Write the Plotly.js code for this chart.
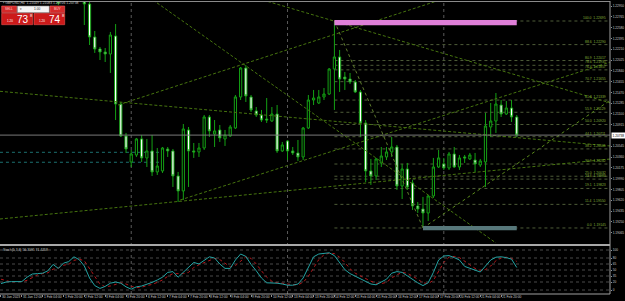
<!DOCTYPE html>
<html><head><meta charset="utf-8">
<script src="https://cdn.plot.ly/plotly-3.0.1.min.js"></script>
<style>html,body{margin:0;padding:0;background:#000;}#c{width:625px;height:301px;}</style>
</head><body><div id="c"></div>
<script>
// ---------- DATA ----------
const barIdx = [11,16,17,18,19,20,21,22,23,24,25,26,27,28,29,30,31,32,33,34,35,36,37,38,39,40,41,42,43,44,45,46,47,48,49,50,51,52,53,54,55,56,57,58,59,60,61,62,63,64,65,66,67,68,69,70,71,72,73,74,75,76,77,78,79,80,81,82,83,84,85,86,87,88,89,90,91,92,93,94,95,96,97,98,99];
const opens = [1.23055,1.23072,1.22986,1.22421,1.22215,1.22164,1.22129,1.22438,1.21271,1.20723,1.20277,1.20397,1.20672,1.20346,1.20466,1.20106,1.20123,1.20500,1.20466,1.20037,1.19780,1.20826,1.20466,1.20449,1.20517,1.21049,1.20757,1.20826,1.20672,1.20723,1.20860,1.21392,1.21889,1.21392,1.21152,1.21083,1.21014,1.20980,1.21100,1.20466,1.20637,1.20466,1.20432,1.20363,1.20860,1.21340,1.21289,1.21392,1.21443,1.21872,1.22078,1.21734,1.21700,1.21649,1.21478,1.20946,1.20123,1.20037,1.20260,1.20363,1.20449,1.20534,1.19865,1.20157,1.19917,1.19522,1.19471,1.19402,1.19694,1.20191,1.20243,1.20174,1.20414,1.20191,1.20363,1.20329,1.20311,1.20226,1.20277,1.20877,1.20980,1.21254,1.21100,1.21203,1.21049];
const highs = [1.23141,1.23158,1.23021,1.22524,1.22249,1.22232,1.22507,1.22643,1.21306,1.20775,1.20483,1.20689,1.20740,1.20672,1.20740,1.20517,1.20534,1.20534,1.20500,1.20106,1.20928,1.20877,1.20603,1.20603,1.21083,1.21083,1.20997,1.20911,1.20826,1.20911,1.21426,1.21906,1.21940,1.21426,1.21220,1.21169,1.21374,1.21220,1.21254,1.20620,1.20654,1.20534,1.20654,1.20877,1.21426,1.21512,1.21512,1.21546,1.21889,1.22695,1.22198,1.21820,1.21803,1.21683,1.21512,1.20997,1.20329,1.20346,1.20534,1.20534,1.20706,1.20569,1.20243,1.20260,1.19968,1.19591,1.19677,1.19711,1.20346,1.20483,1.20346,1.20449,1.20534,1.20397,1.20397,1.20432,1.20432,1.20329,1.21117,1.21289,1.21460,1.21340,1.21323,1.21340,1.21083];
const lows = [1.22969,1.22626,1.22283,1.22147,1.22026,1.21992,1.21804,1.20997,1.20706,1.20432,1.20191,1.20363,1.20277,1.20191,1.20037,1.20054,1.20089,1.20363,1.19848,1.19591,1.19625,1.19848,1.20346,1.20363,1.20483,1.20706,1.20534,1.20620,1.20552,1.20706,1.20843,1.21340,1.21306,1.21134,1.21049,1.20963,1.20946,1.20963,1.20432,1.20449,1.20311,1.20397,1.20294,1.20311,1.20843,1.21254,1.21271,1.21340,1.21426,1.21169,1.21478,1.21512,1.21614,1.21460,1.20706,1.19934,1.19883,1.19968,1.20191,1.20311,1.20363,1.19797,1.19642,1.19797,1.19454,1.19402,1.19145,1.19265,1.19659,1.20174,1.20140,1.20140,1.20174,1.20140,1.20260,1.20311,1.20106,1.20191,1.19848,1.20706,1.20775,1.21049,1.21083,1.20963,1.20706];
const closes = [1.23004,1.22986,1.22421,1.22215,1.22164,1.22129,1.22455,1.21271,1.20723,1.20500,1.20414,1.20672,1.20346,1.20466,1.20106,1.20208,1.20517,1.20466,1.20037,1.19780,1.20843,1.20466,1.20449,1.20517,1.21049,1.20809,1.20809,1.20689,1.20740,1.20877,1.21392,1.21889,1.21409,1.21169,1.21083,1.20997,1.20997,1.21100,1.20466,1.20569,1.20466,1.20432,1.20363,1.20860,1.21340,1.21374,1.21392,1.21443,1.21872,1.22078,1.21700,1.21700,1.21649,1.21478,1.20946,1.20123,1.20037,1.20329,1.20380,1.20449,1.20534,1.19865,1.20157,1.19848,1.19522,1.19471,1.19402,1.19694,1.20191,1.20346,1.20174,1.20414,1.20191,1.20346,1.20346,1.20397,1.20243,1.20294,1.20894,1.20980,1.21271,1.21100,1.21203,1.21049,1.20738];

const stochMain = [16,20,21,21,21,32,40,41,42,48,64,54,67,71,83,76,60,30,11,4,9,17,20,17,8,2,8,10,14,19,25,32,44,46,32,44,56,69,65,73,83,80,65,54,54,75,90,84,64,48,30,18,18,17,15,12,12,15,30,56,83,90,92,93,86,67,51,41,35,29,22,15,13,19,27,42,46,44,35,25,18,11,18,44,75,85,86,81,75,59,54,48,45,60,75,82,83,81,77,56.3095];
const stochSignal = [27,23,20,21,21,24,31,38,41,43,52,55,62,64,74,77,73,55,34,15,8,10,15,18,15,9,6,7,11,14,19,25,34,41,41,41,44,56,63,69,74,79,76,66,58,61,73,83,79,65,48,32,22,18,17,15,13,13,19,34,56,76,88,92,91,82,69,53,42,35,29,22,17,16,19,30,38,44,42,35,27,18,16,24,45,69,82,84,81,72,62,54,49,51,60,73,80,82,79,71.4258];

const timeLabels = ["30 Jan 2023","31 Jan 12:00","1 Feb 04:00","1 Feb 20:00","2 Feb 12:00","3 Feb 04:00","3 Feb 20:00","6 Feb 12:00","7 Feb 04:00","7 Feb 20:00","8 Feb 12:00","9 Feb 04:00","9 Feb 20:00","10 Feb 12:00","13 Feb 04:00","13 Feb 20:00","14 Feb 12:00","15 Feb 04:00","15 Feb 20:00","16 Feb 12:00","17 Feb 04:00","17 Feb 20:00","20 Feb 12:00","21 Feb 04:00","21 Feb 20:00"];
const timeLabelIdx = [0,4,8,12,16,20,24,28,32,36,40,44,48,52,56,60,64,68,72,76,80,84,88,92,96];
const weekStartIdx = [25,55,85];

const priceTicks = [1.22950,1.22765,1.22580,1.22395,1.22210,1.22025,1.21840,1.21655,1.21470,1.21285,1.21100,1.20915,1.20545,1.20360,1.20175,1.19990,1.19805,1.19620,1.19435,1.19250,1.19065];
const priceTickText = ["1.22950","1.22765","1.22580","1.22395","1.22210","1.22025","1.21840","1.21655","1.21470","1.21285","1.21100","1.20915","1.20545","1.20360","1.20175","1.19990","1.19805","1.19620","1.19435","1.19250","1.19065"];
const stochLevels = [100,80,65,50,35,20,0];
const stochLevelText = ["100","80","65","50","35","20","0"];

const fibHighIdx = 64, fibHighPrice = 1.22695;
const fibLowIdx = 81, fibLowPrice = 1.19145;
const fibRatios = [100.0,88.6,80.9,78.6,76.4,70.7,61.8,55.9,50.0,44.1,38.2,30.9,25.0,23.6,19.1,11.4,0.0];

const bidPrice = 1.20738, askPrice = 1.20748;
// trend lines: [idx0, price0, idx1, price1]
const trendLines = [
  [-0.2,1.21489,117,1.20551],
  [22.46,1.21254,84.26,1.23055],
  [-0.2,1.19299,117,1.20328],
  [34.4,1.19625,117,1.21992],
  [29.17,1.23055,95.01,1.18888],
  [50.29,1.23055,117,1.21289]
];
const fibTrend = [fibHighIdx,fibHighPrice,fibLowIdx,fibLowPrice];
const lowRay = [81,1.19145,117,1.21340];
const cyanLevels = [1.20443,1.20272];
const cyanLevelEnd = 30.5;
const highZone = [64,99,1.22621,1.22712];
const lowZone = [81,99,1.19106,1.19179];
const titleText = "GBPUSD,H4  1.21049 1.21083 1.20706 1.20738";
const stochTitle = "Stoch(5,3,3) 56.3095 71.4258";

// ---------- LAYOUT HELPERS ----------
const PW = 610, TOP = 2, BOT = 294;
const PH = BOT - TOP;
const pxp = x => x / PW;
const pyp = y => (BOT - y) / PH;
const GREEN = '#14a014';
const FONT = 'Liberation Sans, Arial, sans-serif';

const stochIdx = stochMain.map((_, i) => i);

const traces = [
  {type:'candlestick', x:barIdx, open:opens, high:highs, low:lows, close:closes,
   xaxis:'x', yaxis:'y',
   increasing:{line:{color:GREEN,width:1}, fillcolor:'#000000'},
   decreasing:{line:{color:GREEN,width:1}, fillcolor:'#ffffff'},
   whiskerwidth:0, hoverinfo:'skip', showlegend:false},
  {type:'scatter', mode:'lines', x:stochIdx, y:stochSignal, xaxis:'x', yaxis:'y2',
   line:{color:'#b3171b', width:1, dash:'dot'}, hoverinfo:'skip'},
  {type:'scatter', mode:'lines', x:stochIdx, y:stochMain, xaxis:'x', yaxis:'y2',
   line:{color:'#23a3a3', width:1}, hoverinfo:'skip'}
];

const shapes = [];
const annotations = [];

weekStartIdx.forEach(i => shapes.push({type:'line', xref:'x', yref:'paper', x0:i, x1:i, y0:0, y1:1,
  line:{color:'#5a5a5a', width:1, dash:'dot'}, layer:'below'}));

stochLevels.forEach(v => shapes.push({type:'line', xref:'paper', yref:'y2', x0:0, x1:1, y0:v, y1:v,
  line:{color:'#4a4a4a', width:1, dash:'dot'}, layer:'below'}));

cyanLevels.forEach(v => shapes.push({type:'line', xref:'x', yref:'y', x0:-0.2, x1:cyanLevelEnd, y0:v, y1:v,
  line:{color:'#1c7070', width:1, dash:'dot'}, layer:'below'}));

const fibRange = fibHighPrice - fibLowPrice;
fibRatios.forEach(r => {
  const p = fibLowPrice + r / 100 * fibRange;
  shapes.push({type:'line', xref:'x', yref:'y', x0:fibHighIdx, x1:116.6, y0:p, y1:p,
    line:{color:'#4e5c38', width:1, dash:'dot'}, layer:'below'});
  annotations.push({xref:'paper', yref:'y', x:607/PW, y:p, xanchor:'right', yanchor:'bottom',
    text:r.toFixed(1) + '  ' + p.toFixed(5), showarrow:false, font:{size:3.4, color:'#86b23a', family:FONT}, borderpad:0});
});

trendLines.forEach(t => shapes.push({type:'line', xref:'x', yref:'y', x0:t[0], y0:t[1], x1:t[2], y1:t[3],
  line:{color:'#46740f', width:1, dash:'3px,2px'}}));
shapes.push({type:'line', xref:'x', yref:'y', x0:fibTrend[0], y0:fibTrend[1], x1:fibTrend[2], y1:fibTrend[3],
  line:{color:'#5e7c2c', width:1, dash:'dot'}});
shapes.push({type:'line', xref:'x', yref:'y', x0:lowRay[0], y0:lowRay[1], x1:lowRay[2], y1:lowRay[3],
  line:{color:'#5a8a1c', width:1, dash:'dot'}});

shapes.push({type:'rect', xref:'x', yref:'y', x0:highZone[0], x1:highZone[1], y0:highZone[2], y1:highZone[3],
  fillcolor:'#df7fd8', line:{width:0}});
shapes.push({type:'rect', xref:'x', yref:'y', x0:lowZone[0], x1:lowZone[1], y0:lowZone[2], y1:lowZone[3],
  fillcolor:'#57777a', line:{width:0}});

shapes.push({type:'line', xref:'paper', yref:'y', x0:0, x1:1, y0:bidPrice, y1:bidPrice,
  line:{color:'#7a7a7a', width:1}});

shapes.push({type:'line', xref:'paper', yref:'paper', x0:0, x1:1, y0:pyp(1.5), y1:pyp(1.5), line:{color:'#8a8a8a', width:1}});
shapes.push({type:'line', xref:'paper', yref:'paper', x0:0, x1:1, y0:pyp(245), y1:pyp(245), line:{color:'#a8a8a8', width:2}});
shapes.push({type:'line', xref:'paper', yref:'paper', x0:0, x1:1, y0:0, y1:0, line:{color:'#a0a0a0', width:1}});
shapes.push({type:'line', xref:'paper', yref:'paper', x0:1, x1:1, y0:0, y1:pyp(1), line:{color:'#a0a0a0', width:1}});

function box(x0,y0,x1,y1,fill,lc){shapes.push({type:'rect', xref:'paper', yref:'paper',
  x0:pxp(x0), x1:pxp(x1), y0:pyp(y1), y1:pyp(y0), fillcolor:fill, line:{color:lc, width:0.6}});}
function txt(x,y,t,size,color,xa){annotations.push({xref:'paper', yref:'paper', x:pxp(x), y:pyp(y), text:t,
  showarrow:false, xanchor:xa||'center', yanchor:'middle', font:{size:size, color:color, family:FONT}, borderpad:0});}
box(1.7,6,16.7,12.7,'#d42a2a','#f06060');
box(17.3,6,49.3,12.7,'#f4f4f4','#888888');
box(50,6,64.7,12.7,'#d42a2a','#f06060');
box(1.7,13.3,32.7,24.7,'#cc1a1a','#f05050');
box(34,13.3,64.7,24.7,'#cc1a1a','#f05050');
txt(9.2,9.4,'SELL',3.2,'#ffd0d0');
txt(57.3,9.4,'BUY',3.2,'#ffd0d0');
txt(21,9.4,'▾',3.2,'#333333');
txt(37,9.4,'1.00',3.2,'#222222');
const bidStr = bidPrice.toFixed(5), askStr = askPrice.toFixed(5);
txt(6,21.5,bidStr.slice(0,4),3,'#ffffff','left');
txt(23,19.6,bidStr.slice(4,6),10,'#ffffff');
txt(31,16,bidStr.slice(6),4,'#ffffff');
txt(38,21.5,askStr.slice(0,4),3,'#ffffff','left');
txt(55,19.6,askStr.slice(4,6),10,'#ffffff');
txt(63,16,askStr.slice(6),4,'#ffffff');

txt(2,3.3,'▪ ' + titleText,3.4,'#c8c8c8','left');
txt(2,249.5,stochTitle,3.4,'#c8c8c8','left');

annotations.push({xref:'paper', yref:'y', x:1, y:bidPrice, xanchor:'left', yanchor:'middle', xshift:1,
  text:bidStr, showarrow:false, bgcolor:'#ffffff', font:{size:3.2, color:'#000000', family:FONT}, borderpad:0.5});

timeLabels.forEach((t,k) => annotations.push({xref:'x', yref:'paper', x:timeLabelIdx[k], y:pyp(297.3),
  xanchor:'left', yanchor:'middle', text:t, showarrow:false, font:{size:3.3, color:'#c8c8c8', family:FONT}, borderpad:0}));

const layout = {
  width:625, height:301,
  margin:{l:0, r:15, t:TOP, b:301-BOT},
  paper_bgcolor:'#000000', plot_bgcolor:'#000000',
  showlegend:false, dragmode:false, hovermode:false,
  boxgap:0.4,
  xaxis:{range:[-0.19,116.9], domain:[0,1], anchor:'y2', rangeslider:{visible:false},
    showgrid:false, zeroline:false, showticklabels:false, tickvals:timeLabelIdx,
    ticks:'outside', ticklen:2, tickcolor:'#909090', fixedrange:true},
  yaxis:{domain:[pyp(244),1], range:[1.18870,1.23021], side:'right', anchor:'x',
    showgrid:false, zeroline:false, tickvals:priceTicks, ticktext:priceTickText,
    ticks:'outside', ticklen:1, tickcolor:'#909090', ticklabelstandoff:0,
    tickfont:{size:3.2, color:'#c8c8c8', family:FONT}, fixedrange:true},
  yaxis2:{domain:[0,pyp(246)], range:[-10,110], side:'right', anchor:'x',
    showgrid:false, zeroline:false, tickvals:stochLevels, ticktext:stochLevelText,
    ticks:'outside', ticklen:1, tickcolor:'#909090', ticklabelstandoff:0,
    tickfont:{size:3.2, color:'#c8c8c8', family:FONT}, fixedrange:true},
  shapes:shapes, annotations:annotations
};

Plotly.newPlot('c', traces, layout, {staticPlot:true, displayModeBar:false});
</script></body></html>
